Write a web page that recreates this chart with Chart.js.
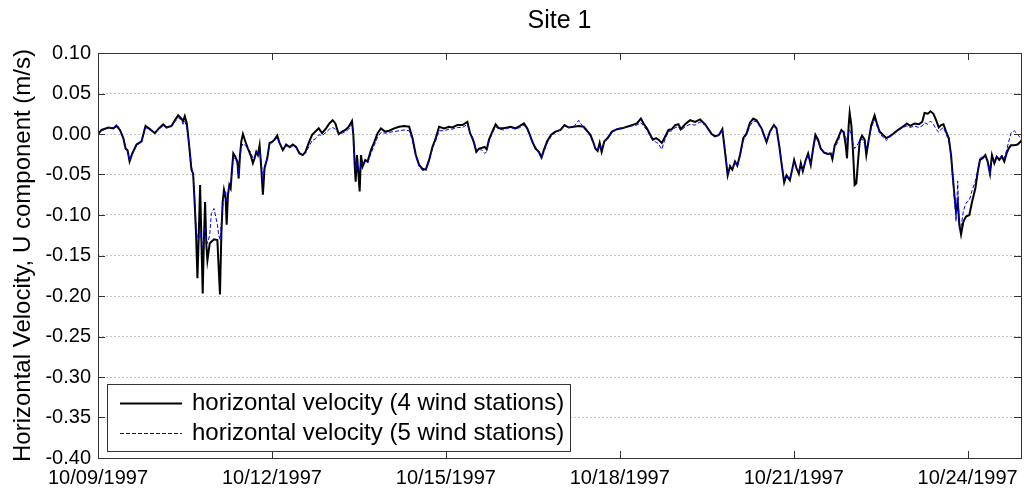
<!DOCTYPE html>
<html>
<head>
<meta charset="utf-8">
<script src="https://cdn.jsdelivr.net/npm/chart.js@4.4.1/dist/chart.umd.min.js"></script>
<style>
  body { margin: 0; background: #fff; }
</style>
</head>
<body>
<canvas id="siteChart" width="1026" height="490"></canvas>
<script>
// time in days since 10/09/1997 00:00
const days = [
    0.00, 0.063, 0.178, 0.264, 0.321, 0.378, 0.436, 0.476, 0.510, 0.545, 0.591, 0.665, 0.751, 0.820, 0.895, 0.981, 1.050, 1.124, 1.182, 1.268, 1.325, 1.383, 1.428, 1.468, 1.497, 1.532, 1.572,
    1.612, 1.641, 1.669, 1.692, 1.715, 1.738, 1.761, 1.784, 1.806, 1.829, 1.847, 1.869, 1.887, 1.927, 1.955, 2.001, 2.059, 2.082, 2.104, 2.127, 2.150, 2.173, 2.202, 2.219, 2.242, 2.265, 2.288, 2.311, 2.334,
    2.368, 2.403, 2.426, 2.449, 2.472, 2.500, 2.540, 2.586, 2.632, 2.672, 2.701, 2.730, 2.758, 2.787, 2.816, 2.844, 2.873, 2.919, 2.959, 3.016, 3.045, 3.091, 3.131,
    3.188, 3.246, 3.303, 3.360, 3.418, 3.475, 3.532, 3.578, 3.635, 3.693, 3.750, 3.807, 3.865, 3.934, 3.991, 4.048, 4.094, 4.152, 4.209, 4.267, 4.324, 4.381, 4.404, 4.427, 4.444, 4.467, 4.490, 4.513, 4.536, 4.564,
    4.610, 4.650, 4.708, 4.765, 4.822, 4.880, 4.954, 5.023, 5.109, 5.195, 5.281, 5.367, 5.424, 5.482, 5.539, 5.596, 5.654, 5.711, 5.768, 5.826, 5.883, 5.969, 6.055, 6.113, 6.199, 6.285, 6.371,
    6.417, 6.457, 6.486, 6.525, 6.571, 6.629, 6.669, 6.704, 6.744, 6.801, 6.858, 6.916, 6.990, 7.059, 7.117, 7.203, 7.277, 7.346, 7.403, 7.449, 7.489, 7.547, 7.604, 7.650, 7.690, 7.747, 7.816, 7.891, 7.977, 8.046,
    8.120, 8.206, 8.292, 8.378, 8.447, 8.493, 8.538, 8.578, 8.618, 8.653, 8.687, 8.733, 8.790, 8.865, 8.951, 9.037, 9.123, 9.209, 9.295, 9.364, 9.410, 9.467, 9.525,
    9.570, 9.625, 9.668, 9.725, 9.783, 9.840, 9.897, 9.955, 10.012, 10.052, 10.127, 10.213, 10.299, 10.385, 10.471, 10.528, 10.585, 10.643, 10.712, 10.769, 10.815, 10.861, 10.901, 10.941, 10.987, 11.027, 11.073, 11.130, 11.187, 11.245,
    11.302, 11.359, 11.445, 11.531, 11.589, 11.658, 11.703, 11.749, 11.789, 11.835, 11.875, 11.933, 11.973, 12.007, 12.047, 12.088, 12.122, 12.157, 12.203, 12.248, 12.294, 12.334, 12.374, 12.420, 12.466, 12.524, 12.593, 12.638, 12.667, 12.707, 12.764,
    12.822, 12.862, 12.897, 12.919, 12.948, 12.965, 12.994, 13.023, 13.051, 13.080, 13.109, 13.138, 13.177, 13.223, 13.252, 13.298, 13.338, 13.395, 13.435, 13.481, 13.538, 13.595, 13.653, 13.710, 13.796, 13.883, 13.951, 14.009, 14.084, 14.158,
    14.216, 14.256, 14.313, 14.359, 14.410, 14.456, 14.502, 14.542, 14.582, 14.628, 14.674, 14.714, 14.742, 14.771, 14.800, 14.829, 14.857, 14.886, 14.926, 14.972, 15.029, 15.075, 15.133, 15.173, 15.213, 15.259, 15.305, 15.345, 15.385, 15.419,
    15.460, 15.500, 15.546, 15.591, 15.632, 15.672, 15.706, 15.746, 15.804, 15.861, 15.918, 15.959
];

// horizontal velocity, 4 wind stations (m/s)
const u4 = [
    0.000, 0.005, 0.008, 0.007, 0.010, 0.005, -0.005, -0.018, -0.020, -0.034, -0.024, -0.013, -0.009, 0.010, 0.006, 0.001, 0.007, 0.012, 0.008, 0.010, 0.017, 0.023, 0.020, 0.016, 0.022, 0.013, -0.014,
    -0.044, -0.049, -0.088, -0.125, -0.178, -0.125, -0.063, -0.133, -0.197, -0.125, -0.084, -0.137, -0.156, -0.135, -0.133, -0.130, -0.131, -0.166, -0.198, -0.125, -0.084, -0.069, -0.079, -0.112, -0.075, -0.063, -0.067, -0.044, -0.024,
    -0.028, -0.034, -0.055, -0.026, -0.009, 0.000, -0.009, -0.018, -0.026, -0.036, -0.030, -0.022, -0.026, -0.014, -0.042, -0.075, -0.042, -0.030, -0.011, -0.009, -0.007, -0.002, -0.011,
    -0.020, -0.013, -0.016, -0.013, -0.016, -0.024, -0.026, -0.022, -0.011, -0.001, 0.003, 0.007, 0.001, 0.007, 0.013, 0.017, 0.013, 0.000, 0.003, 0.005, 0.009, 0.016, -0.001, -0.038, -0.059, -0.026, -0.047, -0.071, -0.026, -0.040,
    -0.032, -0.034, -0.020, -0.010, 0.001, 0.007, 0.003, 0.004, 0.007, 0.009, 0.010, 0.009, -0.005, -0.026, -0.038, -0.043, -0.044, -0.032, -0.016, -0.005, 0.009, 0.007, 0.009, 0.008, 0.011, 0.011, 0.015,
    0.001, -0.005, -0.011, -0.022, -0.018, -0.017, -0.016, -0.019, -0.007, 0.003, 0.012, 0.007, 0.007, 0.008, 0.009, 0.007, 0.010, 0.013, 0.007, -0.001, -0.009, -0.018, -0.022, -0.029, -0.020, -0.009, -0.001, 0.003, 0.005, 0.011,
    0.008, 0.009, 0.010, 0.009, 0.003, -0.001, -0.009, -0.018, -0.021, -0.011, -0.022, -0.009, -0.005, 0.003, 0.006, 0.007, 0.009, 0.011, 0.013, 0.019, 0.013, 0.007, -0.001,
    -0.007, -0.005, -0.007, -0.011, -0.003, 0.005, 0.006, 0.011, 0.012, 0.006, 0.012, 0.017, 0.015, 0.018, 0.012, 0.006, 0.000, -0.003, -0.001, 0.006, -0.022, -0.051, -0.040, -0.044, -0.034, -0.039, -0.026, -0.005, 0.001, 0.014,
    0.019, 0.017, 0.007, -0.010, 0.003, 0.011, 0.007, -0.014, -0.036, -0.060, -0.051, -0.057, -0.044, -0.032, -0.042, -0.049, -0.036, -0.046, -0.033, -0.024, -0.038, -0.018, -0.001, -0.007, -0.018, -0.023, -0.025, -0.024, -0.031, -0.014, -0.005,
    0.005, 0.002, -0.014, -0.030, 0.011, 0.026, 0.011, -0.022, -0.063, -0.061, -0.034, -0.009, -0.002, -0.007, -0.026, -0.005, 0.011, 0.023, 0.013, 0.003, -0.001, -0.005, -0.003, 0.000, 0.005, 0.009, 0.013, 0.010, 0.013, 0.012,
    0.015, 0.026, 0.025, 0.028, 0.025, 0.017, 0.008, 0.011, 0.012, 0.003, -0.005, -0.026, -0.051, -0.075, -0.096, -0.084, -0.112, -0.124, -0.108, -0.102, -0.100, -0.084, -0.067, -0.047, -0.032, -0.030, -0.026, -0.034, -0.049, -0.026,
    -0.036, -0.028, -0.032, -0.028, -0.034, -0.024, -0.018, -0.014, -0.014, -0.013, -0.009, -0.005
];

// horizontal velocity, 5 wind stations (m/s)
const u5 = [
    0.000, 0.004, 0.008, 0.008, 0.012, 0.006, -0.004, -0.016, -0.022, -0.032, -0.026, -0.014, -0.010, 0.008, 0.005, 0.002, 0.006, 0.010, 0.008, 0.009, 0.015, 0.020, 0.018, 0.012, 0.016, 0.008, -0.012,
    -0.040, -0.050, -0.080, -0.115, -0.130, -0.130, -0.120, -0.130, -0.140, -0.125, -0.115, -0.130, -0.135, -0.125, -0.098, -0.092, -0.112, -0.125, -0.130, -0.110, -0.090, -0.075, -0.070, -0.085, -0.072, -0.062, -0.060, -0.048, -0.030,
    -0.030, -0.036, -0.050, -0.030, -0.016, -0.012, -0.014, -0.018, -0.022, -0.030, -0.028, -0.022, -0.024, -0.018, -0.035, -0.058, -0.040, -0.030, -0.013, -0.010, -0.008, -0.004, -0.012,
    -0.018, -0.015, -0.017, -0.015, -0.017, -0.023, -0.025, -0.024, -0.016, -0.008, -0.006, -0.001, -0.002, 0.002, 0.006, 0.008, 0.006, 0.000, 0.001, 0.003, 0.006, 0.012, 0.002, -0.030, -0.045, -0.035, -0.042, -0.045, -0.035, -0.038,
    -0.034, -0.036, -0.024, -0.014, -0.004, 0.002, 0.001, 0.002, 0.003, 0.004, 0.005, 0.004, -0.008, -0.028, -0.040, -0.045, -0.045, -0.034, -0.018, -0.008, 0.004, 0.004, 0.006, 0.006, 0.008, 0.008, 0.012,
    0.002, -0.004, -0.010, -0.020, -0.019, -0.020, -0.024, -0.022, -0.009, 0.001, 0.009, 0.006, 0.005, 0.007, 0.008, 0.006, 0.008, 0.011, 0.006, -0.002, -0.010, -0.016, -0.024, -0.030, -0.022, -0.011, -0.003, 0.002, 0.005, 0.010,
    0.008, 0.009, 0.017, 0.007, 0.002, -0.003, -0.011, -0.016, -0.019, -0.014, -0.018, -0.010, -0.006, 0.002, 0.006, 0.008, 0.008, 0.010, 0.011, 0.014, 0.010, 0.005, -0.003,
    -0.008, -0.010, -0.012, -0.019, -0.006, 0.003, 0.004, 0.008, 0.009, 0.004, 0.009, 0.012, 0.011, 0.015, 0.011, 0.005, -0.001, -0.003, -0.002, 0.005, -0.018, -0.048, -0.038, -0.042, -0.035, -0.040, -0.028, -0.008, -0.001, 0.010,
    0.016, 0.015, 0.006, -0.010, 0.002, 0.010, 0.006, -0.012, -0.034, -0.056, -0.052, -0.055, -0.045, -0.034, -0.043, -0.048, -0.038, -0.045, -0.034, -0.026, -0.036, -0.020, -0.004, -0.009, -0.018, -0.022, -0.024, -0.023, -0.026, -0.016, -0.010,
    0.004, 0.004, -0.004, -0.010, 0.002, 0.005, -0.002, -0.012, -0.018, -0.015, -0.012, -0.008, -0.006, -0.012, -0.018, -0.006, 0.008, 0.018, 0.010, 0.001, -0.004, -0.008, -0.004, -0.001, 0.004, 0.008, 0.010, 0.008, 0.010, 0.008,
    0.010, 0.014, 0.012, 0.016, 0.012, 0.006, 0.002, 0.006, 0.008, 0.000, -0.008, -0.028, -0.055, -0.080, -0.108, -0.058, -0.118, -0.115, -0.095, -0.085, -0.082, -0.070, -0.058, -0.045, -0.030, -0.028, -0.026, -0.034, -0.052, -0.030,
    -0.034, -0.028, -0.030, -0.026, -0.030, -0.020, -0.010, 0.001, 0.004, 0.000, -0.006, -0.004
];

const xTickDays = [0, 3, 6, 9, 12, 15];
const xTickLabels = ['10/09/1997', '10/12/1997', '10/15/1997', '10/18/1997', '10/21/1997', '10/24/1997'];
const yTicks = [-0.40, -0.35, -0.30, -0.25, -0.20, -0.15, -0.10, -0.05, 0.00, 0.05, 0.10];
const seriesLabels = ['horizontal velocity (4 wind stations)', 'horizontal velocity (5 wind stations)'];

const FONT = '"Liberation Sans", Arial, Helvetica, sans-serif';

function toPoints(xs, ys) {
    return xs.map((x, i) => ({ x: x, y: ys[i] }));
}

// box, inward tick marks and the boxed legend, matlab style
const matlabAxes = {
    id: 'matlabAxes',
    afterDatasetsDraw(chart) {
        const ctx = chart.ctx;
        const a = chart.chartArea;
        const xs = chart.scales.x;
        const ys = chart.scales.y;
        const tl = 7;

        ctx.save();
        ctx.strokeStyle = '#333';
        ctx.lineWidth = 1;
        ctx.setLineDash([]);
        ctx.strokeRect(Math.round(a.left) + 0.5, Math.round(a.top) + 0.5,
            Math.round(a.right - a.left), Math.round(a.bottom - a.top));

        ctx.beginPath();
        xTickDays.forEach(d => {
            const px = Math.round(xs.getPixelForValue(d)) + 0.5;
            ctx.moveTo(px, a.bottom);
            ctx.lineTo(px, a.bottom - tl);
            ctx.moveTo(px, a.top);
            ctx.lineTo(px, a.top + tl);
        });
        yTicks.forEach(v => {
            const py = Math.round(ys.getPixelForValue(v)) + 0.5;
            ctx.moveTo(a.left, py);
            ctx.lineTo(a.left + tl, py);
            ctx.moveTo(a.right, py);
            ctx.lineTo(a.right - tl, py);
        });
        ctx.stroke();

        // legend
        ctx.font = '24px ' + FONT;
        const datasets = chart.data.datasets;
        const tw = Math.max(...datasets.map(ds => ctx.measureText(ds.label).width));
        const lh = 67;
        const lx = Math.round(a.left) + 9;
        const ly = Math.round(a.bottom) - 7 - lh;
        const lw = Math.round(85 + tw + 6);
        ctx.fillStyle = '#fff';
        ctx.fillRect(lx, ly, lw, lh);
        ctx.strokeStyle = '#333';
        ctx.strokeRect(lx + 0.5, ly + 0.5, lw, lh);

        datasets.forEach((ds, i) => {
            const cy = ly + 19 + i * 30;
            ctx.beginPath();
            ctx.setLineDash(ds.borderDash || []);
            ctx.strokeStyle = ds.borderColor;
            ctx.lineWidth = ds.borderWidth;
            ctx.moveTo(lx + 13, cy + 0.5);
            ctx.lineTo(lx + 75, cy + 0.5);
            ctx.stroke();
            ctx.setLineDash([]);
            ctx.fillStyle = '#000';
            ctx.textAlign = 'left';
            ctx.textBaseline = 'middle';
            ctx.fillText(ds.label, lx + 85, cy);
        });
        ctx.restore();
    }
};

const ctx = document.getElementById('siteChart').getContext('2d');
new Chart(ctx, {
    type: 'line',
    data: {
        datasets: [{
            label: seriesLabels[0],
            data: toPoints(days, u4),
            borderColor: '#000000',
            borderWidth: 2,
            pointRadius: 0,
            tension: 0,
            order: 1
        }, {
            label: seriesLabels[1],
            data: toPoints(days, u5),
            borderColor: '#0000ff',
            borderWidth: 1,
            borderDash: [4, 2],
            pointRadius: 0,
            tension: 0,
            order: 0
        }]
    },
    options: {
        responsive: false,
        animation: false,
        layout: { padding: { left: 0, right: 3, top: 0, bottom: 0 } },
        plugins: {
            legend: { display: false },
            tooltip: { enabled: false },
            title: {
                display: true,
                fullSize: false,
                text: 'Site 1',
                color: '#000',
                font: { family: FONT, size: 25, weight: 'normal' },
                padding: { top: 6, bottom: 17 }
            }
        },
        scales: {
            x: {
                type: 'linear',
                min: 0,
                max: 15.92,
                afterBuildTicks: scale => { scale.ticks = xTickDays.map(v => ({ value: v })); },
                afterFit: scale => { scale.height = 32; },
                grid: { display: false, drawTicks: false },
                border: { display: false },
                ticks: {
                    autoSkip: false,
                    maxRotation: 0,
                    padding: 8,
                    color: '#000',
                    font: { family: FONT, size: 20 },
                    callback: v => xTickLabels[xTickDays.indexOf(v)]
                }
            },
            y: {
                min: -0.40,
                max: 0.10,
                afterBuildTicks: scale => { scale.ticks = yTicks.map(v => ({ value: v })); },
                afterFit: scale => { scale.width = 98; },
                grid: { color: '#c4c4c4', lineWidth: 1, drawTicks: false },
                border: { display: false, dash: [2, 2] },
                ticks: {
                    padding: 7,
                    color: '#000',
                    font: { family: FONT, size: 20 },
                    callback: v => v.toFixed(2)
                },
                title: {
                    display: true,
                    text: 'Horizontal Velocity, U component (m/s)',
                    color: '#000',
                    font: { family: FONT, size: 24 },
                    padding: { top: 9, bottom: 0 }
                }
            }
        }
    },
    plugins: [matlabAxes]
});
</script>
</body>
</html>
